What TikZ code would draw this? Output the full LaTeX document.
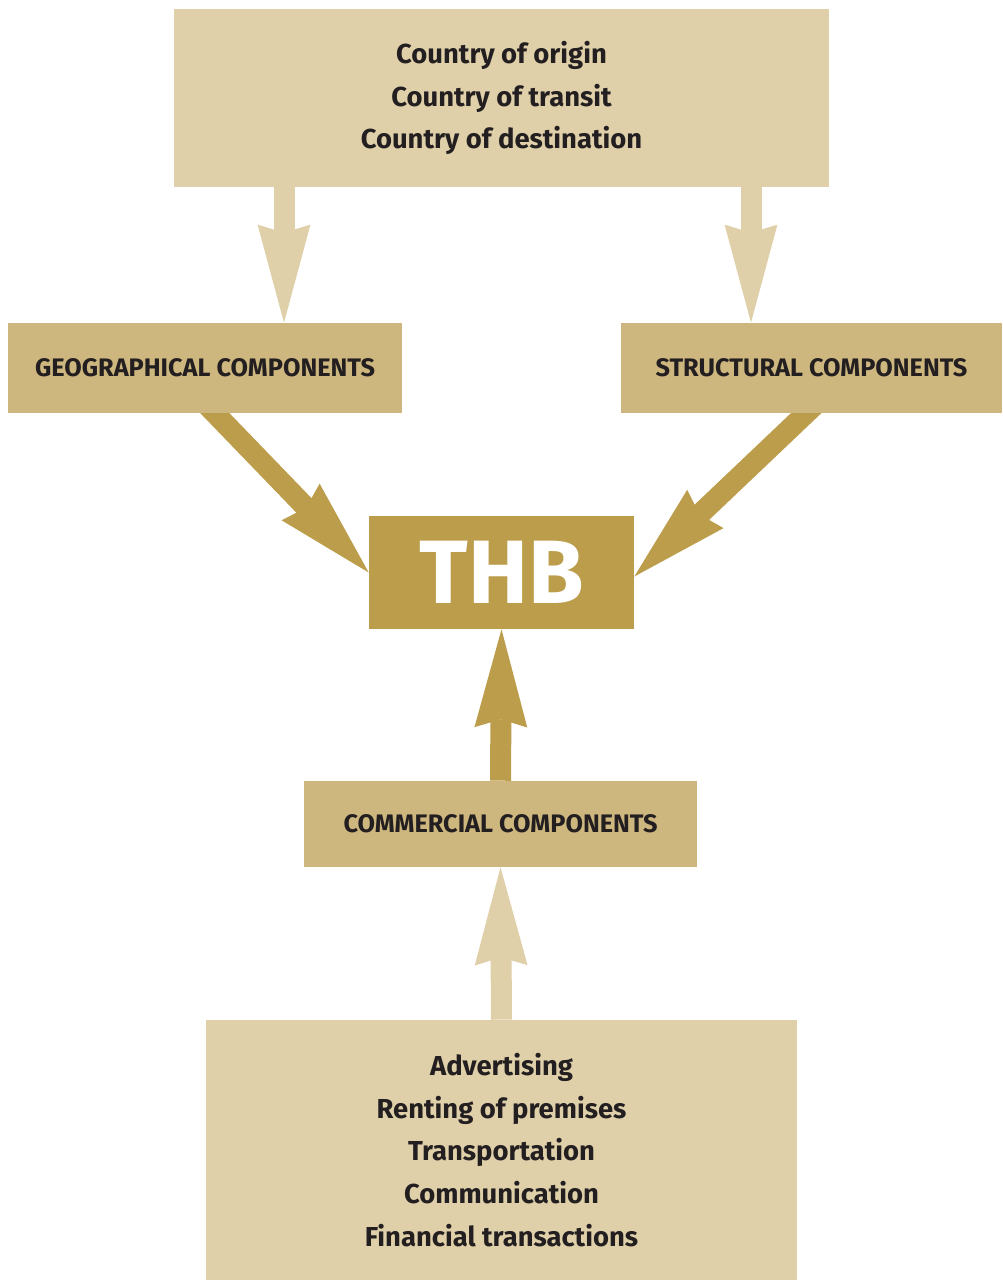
\documentclass[tikz,border=0pt]{standalone}
\usepackage{fontspec}
\setmainfont{Fira Sans}
\usepackage{tikz}
\usetikzlibrary{arrows.meta}
\usetikzlibrary{calc}
\usetikzlibrary{backgrounds}
\definecolor{palegold}{RGB}{223,208,170}
\definecolor{midgold}{RGB}{206,183,127}
\definecolor{darkgold}{RGB}{187,157,75}
\definecolor{inkbrown}{RGB}{35,31,32}
\tikzset{
every node/.style={ % Sets the properties for each box
inner sep=0pt,
align=center,
text=inkbrown,
font=\bfseries},
listbox/.style={fill=palegold, font=\bfseries\fontsize{19.5}{30.5}\selectfont},
partbox/.style={fill=midgold, font=\bfseries\fontsize{18}{20}\selectfont},
hubbox/.style={fill=darkgold, text=white, font=\bfseries\fontsize{64}{64}\selectfont},
paleflow/.style={ % Light arrows from the lists
draw=palegold, line width=0.525cm,
-{Stealth[length=2.45cm, width=1.32cm, inset=0.2cm, line width=0pt, fill=palegold]}},
darkflow/.style={ % Dark arrows into THB
draw=darkgold, line width=0.525cm,
-{Stealth[length=2.45cm, width=1.32cm, inset=0.2cm, line width=0pt, fill=darkgold]}}}

\begin{document}
\begin{tikzpicture}[x=0.025cm, y=-0.025cm]
\useasboundingbox (0,0) rectangle (1002,1280);
\node[listbox, minimum width=16.375cm, minimum height=4.45cm] (origin) at (501.5,98)
{Country of origin\\Country of transit\\Country of destination};
\node[partbox, minimum width=9.85cm, minimum height=2.25cm] (geo) at (205,368) {GEOGRAPHICAL COMPONENTS};
\node[partbox, minimum width=9.525cm, minimum height=2.25cm] (struct) at (811.5,368) {STRUCTURAL COMPONENTS};
\node[hubbox, minimum width=6.625cm, minimum height=2.825cm] (thb) at (501.5,572.5) {THB};
\node[partbox, minimum width=9.825cm, minimum height=2.15cm] (comm) at (500.5,824) {COMMERCIAL COMPONENTS};
\node[listbox, minimum width=14.775cm, minimum height=6.5cm] (trade) at (501.5,1150)
{Advertising\\Renting of premises\\Transportation\\Communication\\Financial transactions};
% arrows go behind the boxes
\begin{scope}[on background layer]
\draw[paleflow] (origin.south -| 284,0) -- (geo.north -| 284,0);
\draw[paleflow] (origin.south -| 751,0) -- (struct.north -| 751,0);
\draw[darkflow] ($(geo.south -| 215,0)!-0.5cm!(thb.west)$) -- (thb.west);
\draw[darkflow] ($(struct.south -| 806,0)!-0.5cm!([yshift=-0.1cm]thb.east)$) -- ([yshift=-0.1cm]thb.east);
\draw[darkflow] (comm.north) -- (thb.south);
\draw[paleflow] (trade.north) -- (comm.south);
\end{scope}
\end{tikzpicture}
\end{document}
